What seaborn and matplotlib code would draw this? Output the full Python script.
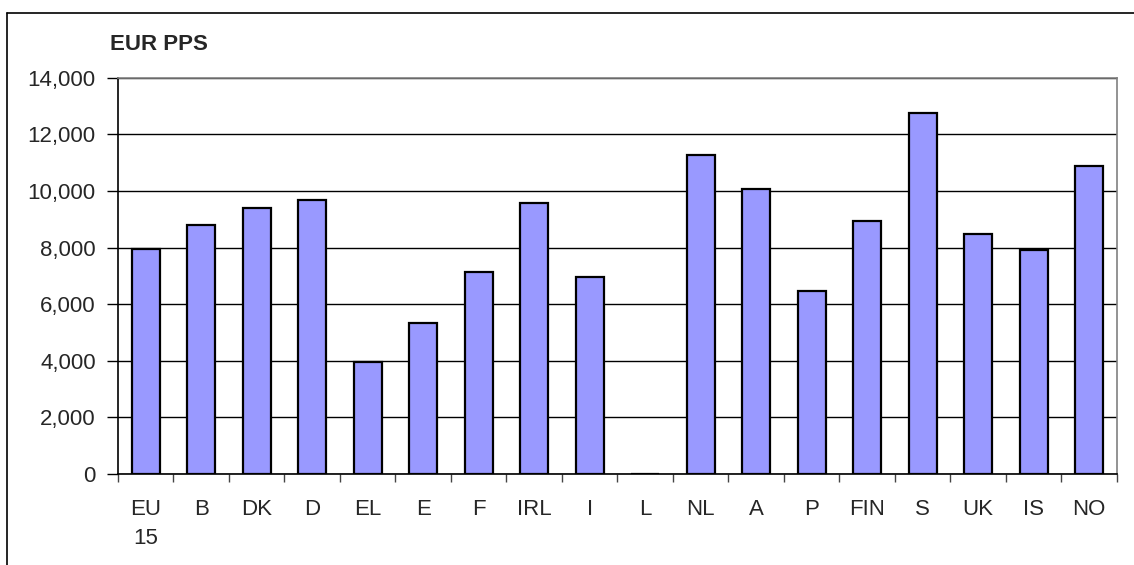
import matplotlib
matplotlib.use("Agg")
import matplotlib.pyplot as plt
import matplotlib.ticker as mticker
from matplotlib.lines import Line2D
import numpy as np
import pandas as pd
import seaborn as sns

countries = ["EU\n15", "B", "DK", "D", "EL", "E", "F", "IRL", "I", "L",
             "NL", "A", "P", "FIN", "S", "UK", "IS", "NO"]
values = [7940, 8800, 9400, 9680, 3950, 5320, 7150, 9560, 6950, 0,
          11280, 10070, 6470, 8940, 12760, 8480, 7920, 10880]
y_ticks = [0, 2000, 4000, 6000, 8000, 10000, 12000, 14000]
unit_label = "EUR PPS"

sns.set_theme(style="white")
plt.rcParams["font.family"] = ["Liberation Sans", "DejaVu Sans"]

df = pd.DataFrame({"country": countries, "value": values})

fig = plt.figure(figsize=(11.34, 5.65), dpi=100)
ax = fig.add_axes([0.104, 0.161, 0.881, 0.7015])

ax.set_axisbelow(True)
ax.yaxis.grid(True, color="#000000", linewidth=1.0)
ax.xaxis.grid(False)

sns.barplot(data=df, x="country", y="value", color="#9999FF", saturation=1,
            width=0.51, edgecolor="black", linewidth=1.6, ax=ax)

ax.set_xlim(-0.5, len(countries) - 0.5)
ax.set_ylim(0, 14000)
ax.set_yticks(y_ticks)
ax.yaxis.set_major_formatter(mticker.FuncFormatter(lambda v, p: f"{int(v):,}"))
ax.set_xlabel("")
ax.set_ylabel("")

# category labels centred, tick marks on the category boundaries
ax.set_xticks(range(len(countries)))
ax.set_xticklabels(countries, fontsize=16, linespacing=1.52, va="top")
ax.set_xticks(np.arange(-0.5, len(countries), 1), minor=True)
ax.tick_params(axis="x", which="major", length=0, pad=18)
ax.tick_params(axis="x", which="minor", length=6, width=1, color="#444444",
               direction="out", bottom=True)
ax.tick_params(axis="y", which="major", length=8, width=1, color="#000000",
               direction="out", left=True, labelsize=16, pad=8)

for side in ["left", "bottom"]:
    ax.spines[side].set_color("#000000")
    ax.spines[side].set_linewidth(1.2)
for side in ["top", "right"]:
    ax.spines[side].set_color("#808080")
    ax.spines[side].set_linewidth(1.2)
    ax.spines[side].set_visible(True)

fig.text(110 / 1134, 1 - 44 / 565, unit_label, fontsize=16, fontweight="bold",
         ha="left", va="center")

# chart frame (left and top edges)
fig.add_artist(Line2D([7 / 1134, 7 / 1134], [0, 1 - 13 / 565],
                      transform=fig.transFigure, color="black", linewidth=1.2))
fig.add_artist(Line2D([7 / 1134, 1], [1 - 13 / 565, 1 - 13 / 565],
                      transform=fig.transFigure, color="black", linewidth=1.2))

fig.savefig("out.png", dpi=100, facecolor="white")
